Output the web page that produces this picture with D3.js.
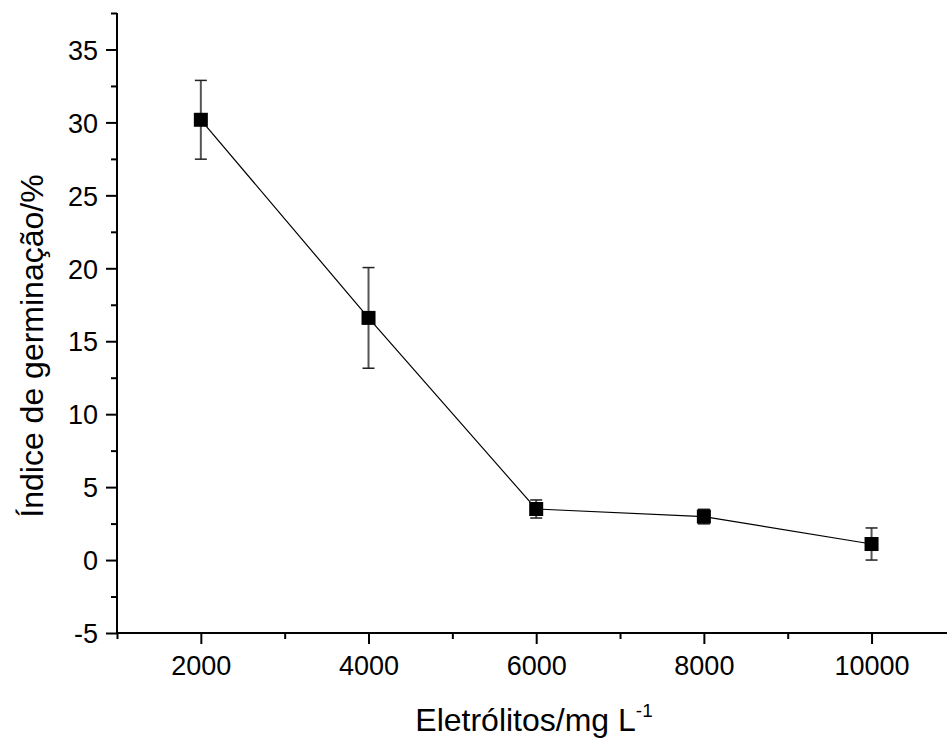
<!DOCTYPE html>
<html><head><meta charset="utf-8">
<script src="https://cdn.jsdelivr.net/npm/d3@7"></script>
<style>body{margin:0;background:#fff}svg{display:block}text{font-family:"Liberation Sans",Arial,sans-serif;fill:#000}</style>
</head><body><svg id="c" width="947" height="738"></svg>
<script>
const xValues = [2000, 4000, 6000, 8000, 10000];
const yValues = [30.18, 16.6, 3.5, 2.98, 1.1];
const yErrors = [2.7, 3.45, 0.62, 0.5, 1.1];
const xMajorTicks = [2000, 4000, 6000, 8000, 10000];
const xMinorTicks = [1000, 3000, 5000, 7000, 9000];
const yMajorTicks = [-5, 0, 5, 10, 15, 20, 25, 30, 35];
const yMinorTicks = [-2.5, 2.5, 7.5, 12.5, 17.5, 22.5, 27.5, 32.5, 37.5];
const xTitle = "Eletrólitos/mg L";
const xTitleSup = "-1";
const yTitle = "Índice de germinação/%";

const svg = d3.select("#c");
const L = 117, R = 947, T = 13, B = 633;
const x = d3.scaleLinear().domain([1000, 10900]).range([L, R]);
const y = d3.scaleLinear().domain([-5, 37.5]).range([B, T]);
const fmt = d => String(d);

// y axis
const yAxis = d3.axisLeft(y).tickValues(yMajorTicks).tickSize(11).tickPadding(8).tickFormat(fmt);
const gy = svg.append("g").attr("transform", `translate(${L},0)`).call(yAxis);
gy.select(".domain").attr("stroke", "#000").attr("stroke-width", 2).attr("d", `M0,${B}V${T}`);
gy.selectAll(".tick line").attr("stroke", "#000").attr("stroke-width", 2);
gy.selectAll(".tick text").style("font-size", "27px").attr("dy", "0.36em");
svg.append("g").attr("transform", `translate(${L},0)`).call(d3.axisLeft(y).tickValues(yMinorTicks).tickSize(6).tickFormat(""))
  .call(g => { g.select(".domain").remove(); g.selectAll("line").attr("stroke", "#000").attr("stroke-width", 2); });

// x axis
const xAxis = d3.axisBottom(x).tickValues(xMajorTicks).tickSize(11).tickPadding(12).tickFormat(fmt);
const gx = svg.append("g").attr("transform", `translate(0,${B})`).call(xAxis);
gx.select(".domain").attr("stroke", "#000").attr("stroke-width", 2).attr("d", `M${L},0H${R}`);
gx.selectAll(".tick line").attr("stroke", "#000").attr("stroke-width", 2);
gx.selectAll(".tick text").style("font-size", "27px");
svg.append("g").attr("transform", `translate(0,${B})`).call(d3.axisBottom(x).tickValues(xMinorTicks).tickSize(6).tickFormat(""))
  .call(g => { g.select(".domain").remove(); g.selectAll("line").attr("stroke", "#000").attr("stroke-width", 2); });

// data
const data = xValues.map((v, i) => ({x: v, y: yValues[i], e: yErrors[i]}));

svg.append("path").datum(data)
  .attr("fill", "none").attr("stroke", "#000").attr("stroke-width", 1.2)
  .attr("d", d3.line().x(d => x(d.x)).y(d => y(d.y)));

const eb = svg.append("g").selectAll("g").data(data).join("g");
eb.append("line").attr("x1", d => x(d.x)).attr("x2", d => x(d.x))
  .attr("y1", d => y(d.y + d.e)).attr("y2", d => y(d.y - d.e))
  .attr("stroke", "#555").attr("stroke-width", 2);
eb.append("line").attr("x1", d => x(d.x) - 6).attr("x2", d => x(d.x) + 6)
  .attr("y1", d => y(d.y + d.e)).attr("y2", d => y(d.y + d.e))
  .attr("stroke", "#222").attr("stroke-width", 1.5);
eb.append("line").attr("x1", d => x(d.x) - 6).attr("x2", d => x(d.x) + 6)
  .attr("y1", d => y(d.y - d.e)).attr("y2", d => y(d.y - d.e))
  .attr("stroke", "#222").attr("stroke-width", 1.5);

svg.append("g").selectAll("rect").data(data).join("rect")
  .attr("x", d => x(d.x) - 7).attr("y", d => y(d.y) - 7)
  .attr("width", 14).attr("height", 14).attr("fill", "#000");

// titles
const xt = svg.append("text").attr("x", 534).attr("y", 731).attr("text-anchor", "middle").style("font-size", "32px");
xt.append("tspan").text(xTitle);
xt.append("tspan").text(xTitleSup).style("font-size", "19px").attr("dy", "-14");

svg.append("text").attr("transform", "translate(43,346) rotate(-90)")
  .attr("text-anchor", "middle").style("font-size", "32px").text(yTitle);
</script></body></html>
